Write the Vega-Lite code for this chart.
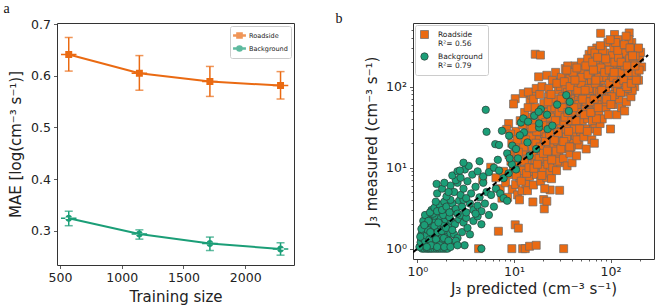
{
"$schema":"https://vega.github.io/schema/vega-lite/v6.json",
"padding":{"left":3,"top":1,"right":2,"bottom":2},
"spacing":40,
"resolve":{"scale":{"color":"independent","shape":"independent","stroke":"independent","size":"independent"},"legend":{"color":"independent","shape":"independent"}},
"config":{"font":"DejaVu Sans","view":{"stroke":"#333","strokeWidth":1},
"axis":{"domain":false,"grid":false,"tickColor":"#333","tickSize":3.5,"tickWidth":0.8,"labelColor":"#222","titleColor":"#222","labelFontSize":12.5,"titleFontSize":15,"titleFontWeight":"normal","labelPadding":3,"labelFlush":false,"labelOverlap":false}},
"datasets":{
"mae":[
{"n":571,"mae":0.641,"lo":0.609,"hi":0.674,"s":"Roadside"},
{"n":1143,"mae":0.605,"lo":0.572,"hi":0.639,"s":"Roadside"},
{"n":1714,"mae":0.589,"lo":0.560,"hi":0.618,"s":"Roadside"},
{"n":2286,"mae":0.581,"lo":0.555,"hi":0.608,"s":"Roadside"},
{"n":571,"mae":0.3245,"lo":0.310,"hi":0.338,"s":"Background"},
{"n":1143,"mae":0.294,"lo":0.284,"hi":0.302,"s":"Background"},
{"n":1714,"mae":0.2755,"lo":0.262,"hi":0.288,"s":"Background"},
{"n":2286,"mae":0.265,"lo":0.253,"hi":0.277,"s":"Background"}
],
"pts":[
{"x":4.3,"y":1,"s":"R"},{"x":9.5,"y":1,"s":"R"},{"x":12.3,"y":1,"s":"R"},{"x":13.1,"y":1,"s":"R"},{"x":14.5,"y":1.07,"s":"R"},{"x":17,"y":1.1,"s":"R"},{"x":32.7,"y":1,"s":"R"},
{"x":6.9,"y":1.64,"s":"R"},{"x":10.3,"y":1.97,"s":"R"},{"x":11.1,"y":1.79,"s":"R"},
{"x":15.7,"y":3.77,"s":"R"},{"x":20.3,"y":4.04,"s":"R"},{"x":20.6,"y":3.1,"s":"R"},{"x":21.9,"y":3.85,"s":"R"},{"x":29.7,"y":5.25,"s":"R"},{"x":23.7,"y":5.3,"s":"R"},
{"x":4.74,"y":7.1,"s":"R"},{"x":5.74,"y":10.1,"s":"R"},{"x":6.5,"y":7.5,"s":"R"},{"x":7.2,"y":5.5,"s":"R"},{"x":7.8,"y":9,"s":"R"},{"x":7.5,"y":4.2,"s":"R"},
{"x":8.8,"y":35,"s":"R"},{"x":8.4,"y":29.7,"s":"R"},{"x":10.3,"y":71,"s":"R"},{"x":9.9,"y":61,"s":"R"},{"x":12.5,"y":82,"s":"R"},{"x":14.7,"y":67,"s":"R"},{"x":15.3,"y":78.5,"s":"R"},{"x":14.1,"y":86,"s":"R"},
{"x":18,"y":132,"s":"R"},{"x":21.9,"y":138,"s":"R"},{"x":16.6,"y":251,"s":"R"},{"x":18.8,"y":245,"s":"R"},{"x":34,"y":167,"s":"R"},{"x":27.9,"y":109,"s":"R"},{"x":30,"y":115,"s":"R"},{"x":22.8,"y":75,"s":"R"},{"x":21.9,"y":59,"s":"R"},
{"x":8.2,"y":6.5,"s":"R"},{"x":8.6,"y":4.3,"s":"R"},{"x":9.0,"y":8.2,"s":"R"},{"x":9.3,"y":12,"s":"R"},{"x":9.6,"y":5.4,"s":"R"},{"x":9.9,"y":9,"s":"R"},{"x":10.2,"y":15,"s":"R"},{"x":10.4,"y":6.2,"s":"R"},{"x":10.7,"y":11,"s":"R"},{"x":10.9,"y":4.6,"s":"R"},{"x":11.2,"y":19,"s":"R"},{"x":11.5,"y":7.5,"s":"R"},{"x":11.8,"y":13,"s":"R"},{"x":12.1,"y":5.2,"s":"R"},{"x":12.4,"y":25,"s":"R"},{"x":12.7,"y":9.5,"s":"R"},{"x":13.0,"y":16,"s":"R"},{"x":13.3,"y":6.3,"s":"R"},{"x":13.6,"y":32,"s":"R"},{"x":13.9,"y":11,"s":"R"},{"x":14.2,"y":21,"s":"R"},{"x":14.5,"y":7.8,"s":"R"},{"x":14.8,"y":14,"s":"R"},{"x":15.0,"y":42,"s":"R"},{"x":9.5,"y":20,"s":"R"},{"x":10.5,"y":28,"s":"R"},{"x":11.6,"y":38,"s":"R"},{"x":12.9,"y":48,"s":"R"},{"x":8.9,"y":14.5,"s":"R"},{"x":10.0,"y":10.5,"s":"R"},{"x":11.4,"y":4.0,"s":"R"},{"x":12.6,"y":18,"s":"R"},{"x":13.8,"y":5.2,"s":"R"},{"x":14.6,"y":27,"s":"R"},{"x":9.2,"y":26,"s":"R"},{"x":10.8,"y":22,"s":"R"},{"x":12.0,"y":9.2,"s":"R"},{"x":14.0,"y":55,"s":"R"},
{"x":15.3,"y":9,"s":"R"},{"x":15.6,"y":18,"s":"R"},{"x":15.9,"y":6.1,"s":"R"},{"x":16.2,"y":25,"s":"R"},{"x":16.5,"y":12,"s":"R"},{"x":16.8,"y":35,"s":"R"},{"x":17.1,"y":8.2,"s":"R"},{"x":17.4,"y":16,"s":"R"},{"x":17.7,"y":50,"s":"R"},{"x":18.0,"y":22,"s":"R"},{"x":18.3,"y":10.5,"s":"R"},{"x":18.6,"y":30,"s":"R"},{"x":18.9,"y":6.8,"s":"R"},{"x":19.2,"y":14,"s":"R"},{"x":19.5,"y":42,"s":"R"},{"x":19.8,"y":19,"s":"R"},{"x":20.1,"y":9.5,"s":"R"},{"x":20.4,"y":62,"s":"R"},{"x":20.7,"y":26,"s":"R"},{"x":21.0,"y":12.5,"s":"R"},{"x":21.3,"y":36,"s":"R"},{"x":21.6,"y":17,"s":"R"},{"x":21.9,"y":7.5,"s":"R"},{"x":22.0,"y":48,"s":"R"},{"x":16.0,"y":70,"s":"R"},{"x":17.0,"y":95,"s":"R"},{"x":18.5,"y":80,"s":"R"},{"x":19.5,"y":100,"s":"R"},{"x":20.8,"y":5.5,"s":"R"},{"x":16.4,"y":45,"s":"R"},{"x":19.0,"y":28,"s":"R"},{"x":21.5,"y":24,"s":"R"},{"x":15.8,"y":14,"s":"R"},{"x":18.2,"y":13,"s":"R"},
{"x":22.4,"y":11,"s":"R"},{"x":22.8,"y":20,"s":"R"},{"x":23.2,"y":32,"s":"R"},{"x":23.6,"y":8.6,"s":"R"},{"x":24.0,"y":15,"s":"R"},{"x":24.4,"y":52,"s":"R"},{"x":24.8,"y":25,"s":"R"},{"x":25.2,"y":10,"s":"R"},{"x":25.6,"y":40,"s":"R"},{"x":26.0,"y":18,"s":"R"},{"x":26.4,"y":70,"s":"R"},{"x":26.8,"y":13,"s":"R"},{"x":27.2,"y":30,"s":"R"},{"x":27.6,"y":9.2,"s":"R"},{"x":28.0,"y":45,"s":"R"},{"x":28.4,"y":21,"s":"R"},{"x":28.8,"y":90,"s":"R"},{"x":29.2,"y":15,"s":"R"},{"x":29.6,"y":60,"s":"R"},{"x":30.0,"y":28,"s":"R"},{"x":30.5,"y":11.5,"s":"R"},{"x":31.0,"y":38,"s":"R"},{"x":31.5,"y":19,"s":"R"},{"x":32.0,"y":75,"s":"R"},{"x":23.0,"y":95,"s":"R"},{"x":25.0,"y":120,"s":"R"},{"x":27.0,"y":150,"s":"R"},{"x":24.5,"y":7.3,"s":"R"},{"x":26.5,"y":55,"s":"R"},{"x":29.0,"y":35,"s":"R"},{"x":31.0,"y":130,"s":"R"},{"x":22.6,"y":65,"s":"R"},{"x":28.2,"y":12,"s":"R"},{"x":30.2,"y":100,"s":"R"},{"x":25.8,"y":28,"s":"R"},{"x":23.8,"y":42,"s":"R"},
{"x":32.5,"y":13,"s":"R"},{"x":33,"y":26,"s":"R"},{"x":33.5,"y":50,"s":"R"},{"x":34,"y":17,"s":"R"},{"x":34.5,"y":95,"s":"R"},{"x":35,"y":33,"s":"R"},{"x":35.5,"y":10.5,"s":"R"},{"x":36,"y":62,"s":"R"},{"x":36.5,"y":22,"s":"R"},{"x":37,"y":140,"s":"R"},{"x":37.5,"y":40,"s":"R"},{"x":38,"y":15,"s":"R"},{"x":38.5,"y":80,"s":"R"},{"x":39,"y":28,"s":"R"},{"x":39.5,"y":55,"s":"R"},{"x":40,"y":11.5,"s":"R"},{"x":40.5,"y":110,"s":"R"},{"x":41,"y":35,"s":"R"},{"x":41.5,"y":20,"s":"R"},{"x":42,"y":70,"s":"R"},{"x":42.5,"y":180,"s":"R"},{"x":43,"y":45,"s":"R"},{"x":43.5,"y":25,"s":"R"},{"x":44,"y":90,"s":"R"},{"x":44.5,"y":14,"s":"R"},{"x":45,"y":130,"s":"R"},{"x":45.5,"y":55,"s":"R"},{"x":46,"y":32,"s":"R"},{"x":46.5,"y":75,"s":"R"},{"x":47,"y":19,"s":"R"},{"x":47.5,"y":160,"s":"R"},{"x":48,"y":48,"s":"R"},{"x":48.5,"y":100,"s":"R"},{"x":49,"y":28,"s":"R"},{"x":49.5,"y":65,"s":"R"},{"x":50,"y":200,"s":"R"},{"x":34,"y":70,"s":"R"},{"x":36,"y":180,"s":"R"},{"x":38,"y":125,"s":"R"},{"x":40,"y":45,"s":"R"},{"x":42,"y":30,"s":"R"},{"x":44,"y":60,"s":"R"},{"x":46,"y":40,"s":"R"},{"x":48,"y":120,"s":"R"},{"x":35,"y":24,"s":"R"},{"x":39,"y":18,"s":"R"},{"x":43,"y":100,"s":"R"},{"x":47,"y":85,"s":"R"},{"x":33,"y":37,"s":"R"},{"x":41,"y":150,"s":"R"},{"x":45,"y":22,"s":"R"},
{"x":51,"y":38,"s":"R"},{"x":52,"y":85,"s":"R"},{"x":53,"y":24,"s":"R"},{"x":54,"y":140,"s":"R"},{"x":55,"y":55,"s":"R"},{"x":56,"y":17,"s":"R"},{"x":57,"y":110,"s":"R"},{"x":58,"y":40,"s":"R"},{"x":59,"y":75,"s":"R"},{"x":60,"y":250,"s":"R"},{"x":61,"y":30,"s":"R"},{"x":62,"y":170,"s":"R"},{"x":63,"y":60,"s":"R"},{"x":64,"y":22,"s":"R"},{"x":65,"y":95,"s":"R"},{"x":66,"y":45,"s":"R"},{"x":67,"y":210,"s":"R"},{"x":68,"y":130,"s":"R"},{"x":69,"y":35,"s":"R"},{"x":70,"y":80,"s":"R"},{"x":71,"y":55,"s":"R"},{"x":72,"y":300,"s":"R"},{"x":73,"y":28,"s":"R"},{"x":74,"y":150,"s":"R"},{"x":75,"y":100,"s":"R"},{"x":76,"y":45,"s":"R"},{"x":77,"y":190,"s":"R"},{"x":78,"y":65,"s":"R"},{"x":79,"y":455,"s":"R"},{"x":80,"y":120,"s":"R"},{"x":52,"y":160,"s":"R"},{"x":55,"y":30,"s":"R"},{"x":58,"y":220,"s":"R"},{"x":62,"y":90,"s":"R"},{"x":66,"y":115,"s":"R"},{"x":70,"y":160,"s":"R"},{"x":74,"y":75,"s":"R"},{"x":78,"y":35,"s":"R"},{"x":56,"y":65,"s":"R"},{"x":60,"y":50,"s":"R"},{"x":64,"y":280,"s":"R"},{"x":68,"y":20,"s":"R"},{"x":72,"y":110,"s":"R"},{"x":76,"y":240,"s":"R"},{"x":53,"y":110,"s":"R"},{"x":57,"y":48,"s":"R"},{"x":61,"y":140,"s":"R"},{"x":65,"y":38,"s":"R"},{"x":69,"y":260,"s":"R"},{"x":73,"y":90,"s":"R"},
{"x":82,"y":40,"s":"R"},{"x":84,"y":180,"s":"R"},{"x":86,"y":90,"s":"R"},{"x":88,"y":260,"s":"R"},{"x":90,"y":55,"s":"R"},{"x":92,"y":130,"s":"R"},{"x":94,"y":350,"s":"R"},{"x":96,"y":75,"s":"R"},{"x":98,"y":200,"s":"R"},{"x":100,"y":30,"s":"R"},{"x":102,"y":110,"s":"R"},{"x":104,"y":160,"s":"R"},{"x":106,"y":60,"s":"R"},{"x":108,"y":300,"s":"R"},{"x":110,"y":440,"s":"R"},{"x":112,"y":95,"s":"R"},{"x":114,"y":220,"s":"R"},{"x":116,"y":45,"s":"R"},{"x":118,"y":140,"s":"R"},{"x":120,"y":380,"s":"R"},{"x":122,"y":70,"s":"R"},{"x":124,"y":250,"s":"R"},{"x":126,"y":180,"s":"R"},{"x":128,"y":110,"s":"R"},{"x":130,"y":55,"s":"R"},{"x":85,"y":130,"s":"R"},{"x":90,"y":95,"s":"R"},{"x":95,"y":45,"s":"R"},{"x":100,"y":150,"s":"R"},{"x":105,"y":240,"s":"R"},{"x":110,"y":80,"s":"R"},{"x":115,"y":180,"s":"R"},{"x":120,"y":120,"s":"R"},{"x":125,"y":320,"s":"R"},{"x":88,"y":65,"s":"R"},{"x":98,"y":110,"s":"R"},{"x":108,"y":190,"s":"R"},{"x":118,"y":90,"s":"R"},{"x":128,"y":160,"s":"R"},{"x":83,"y":280,"s":"R"},{"x":93,"y":200,"s":"R"},{"x":103,"y":75,"s":"R"},{"x":113,"y":350,"s":"R"},{"x":123,"y":150,"s":"R"},
{"x":133,"y":200,"s":"R"},{"x":136,"y":85,"s":"R"},{"x":140,"y":140,"s":"R"},{"x":143,"y":300,"s":"R"},{"x":146,"y":65,"s":"R"},{"x":150,"y":240,"s":"R"},{"x":153,"y":110,"s":"R"},{"x":156,"y":460,"s":"R"},{"x":160,"y":170,"s":"R"},{"x":163,"y":75,"s":"R"},{"x":166,"y":350,"s":"R"},{"x":170,"y":130,"s":"R"},{"x":174,"y":220,"s":"R"},{"x":178,"y":100,"s":"R"},{"x":182,"y":280,"s":"R"},{"x":186,"y":150,"s":"R"},{"x":190,"y":190,"s":"R"},{"x":195,"y":120,"s":"R"},{"x":200,"y":230,"s":"R"},{"x":205,"y":265,"s":"R"},{"x":210,"y":175,"s":"R"},{"x":140,"y":50,"s":"R"},{"x":155,"y":380,"s":"R"},{"x":168,"y":90,"s":"R"},{"x":180,"y":240,"s":"R"},{"x":145,"y":420,"s":"R"},{"x":135,"y":260,"s":"R"},{"x":160,"y":125,"s":"R"},{"x":175,"y":150,"s":"R"},{"x":195,"y":300,"s":"R"},{"x":150,"y":95,"s":"R"},
{"x":10.6,"y":8,"s":"R"},{"x":11.9,"y":6.8,"s":"R"},{"x":12.8,"y":12,"s":"R"},{"x":13.5,"y":8.5,"s":"R"},{"x":14.3,"y":10,"s":"R"},{"x":15.1,"y":24,"s":"R"},{"x":16.1,"y":9.8,"s":"R"},{"x":16.9,"y":20,"s":"R"},{"x":17.5,"y":11,"s":"R"},{"x":18.7,"y":18,"s":"R"},{"x":19.4,"y":8,"s":"R"},{"x":20.2,"y":15,"s":"R"},{"x":21.2,"y":21,"s":"R"},{"x":17.2,"y":28,"s":"R"},{"x":15.4,"y":31,"s":"R"},{"x":13.2,"y":22,"s":"R"},{"x":11.1,"y":15.5,"s":"R"},{"x":12.2,"y":34,"s":"R"},{"x":19.9,"y":33,"s":"R"},{"x":16.6,"y":55,"s":"R"},
{"x":22.2,"y":16,"s":"R"},{"x":23.4,"y":26,"s":"R"},{"x":24.6,"y":12.5,"s":"R"},{"x":25.4,"y":33,"s":"R"},{"x":26.2,"y":22,"s":"R"},{"x":27.4,"y":16,"s":"R"},{"x":28.6,"y":27,"s":"R"},{"x":29.4,"y":48,"s":"R"},{"x":30.6,"y":17,"s":"R"},{"x":31.6,"y":55,"s":"R"},{"x":32.8,"y":21,"s":"R"},{"x":33.8,"y":42,"s":"R"},{"x":34.8,"y":30,"s":"R"},{"x":35.8,"y":85,"s":"R"},{"x":36.8,"y":28,"s":"R"},{"x":37.8,"y":18,"s":"R"},{"x":38.8,"y":65,"s":"R"},{"x":39.8,"y":38,"s":"R"},{"x":24.2,"y":80,"s":"R"},{"x":27.8,"y":110,"s":"R"},{"x":33.2,"y":115,"s":"R"},{"x":36.2,"y":48,"s":"R"},{"x":38.2,"y":100,"s":"R"},{"x":26.9,"y":38,"s":"R"},{"x":30.8,"y":70,"s":"R"},{"x":35.2,"y":160,"s":"R"},
{"x":41.8,"y":55,"s":"R"},{"x":43.8,"y":38,"s":"R"},{"x":45.8,"y":90,"s":"R"},{"x":47.8,"y":30,"s":"R"},{"x":49.8,"y":110,"s":"R"},{"x":51.5,"y":70,"s":"R"},{"x":53.5,"y":45,"s":"R"},{"x":55.5,"y":180,"s":"R"},{"x":57.5,"y":28,"s":"R"},{"x":59.5,"y":95,"s":"R"},{"x":61.5,"y":65,"s":"R"},{"x":63.5,"y":120,"s":"R"},{"x":65.5,"y":200,"s":"R"},{"x":67.5,"y":70,"s":"R"},{"x":69.5,"y":110,"s":"R"},{"x":71.5,"y":40,"s":"R"},{"x":73.5,"y":230,"s":"R"},{"x":75.5,"y":130,"s":"R"},{"x":77.5,"y":85,"s":"R"},{"x":79.5,"y":170,"s":"R"},{"x":44.8,"y":170,"s":"R"},{"x":50.5,"y":130,"s":"R"},{"x":54.5,"y":90,"s":"R"},{"x":58.5,"y":140,"s":"R"},{"x":62.5,"y":48,"s":"R"},{"x":66.5,"y":160,"s":"R"},{"x":70.5,"y":120,"s":"R"},{"x":74.5,"y":55,"s":"R"},{"x":78.5,"y":320,"s":"R"},{"x":42.8,"y":120,"s":"R"},
{"x":81,"y":90,"s":"R"},{"x":87,"y":150,"s":"R"},{"x":91,"y":70,"s":"R"},{"x":97,"y":160,"s":"R"},{"x":101,"y":60,"s":"R"},{"x":107,"y":130,"s":"R"},{"x":111,"y":200,"s":"R"},{"x":117,"y":110,"s":"R"},{"x":121,"y":230,"s":"R"},{"x":127,"y":85,"s":"R"},{"x":131,"y":150,"s":"R"},{"x":137,"y":120,"s":"R"},{"x":141,"y":180,"s":"R"},{"x":147,"y":100,"s":"R"},{"x":152,"y":150,"s":"R"},{"x":158,"y":220,"s":"R"},{"x":164,"y":110,"s":"R"},{"x":171,"y":190,"s":"R"},{"x":185,"y":120,"s":"R"},{"x":198,"y":160,"s":"R"},{"x":89,"y":220,"s":"R"},{"x":99,"y":380,"s":"R"},{"x":109,"y":150,"s":"R"},{"x":119,"y":280,"s":"R"},{"x":129,"y":200,"s":"R"},{"x":139,"y":330,"s":"R"},{"x":149,"y":180,"s":"R"},{"x":159,"y":300,"s":"R"},{"x":169,"y":240,"s":"R"},{"x":179,"y":180,"s":"R"},
{"x":1.12,"y":1,"s":"B"},{"x":1.18,"y":1,"s":"B"},{"x":1.25,"y":1,"s":"B"},{"x":1.3,"y":1,"s":"B"},{"x":1.36,"y":1,"s":"B"},{"x":1.42,"y":1,"s":"B"},{"x":1.5,"y":1,"s":"B"},{"x":1.58,"y":1,"s":"B"},{"x":1.66,"y":1,"s":"B"},{"x":1.75,"y":1,"s":"B"},{"x":1.85,"y":1,"s":"B"},{"x":1.95,"y":1,"s":"B"},{"x":2.05,"y":1,"s":"B"},{"x":3.08,"y":1.1,"s":"B"},{"x":4.6,"y":1,"s":"B"},
{"x":1.08,"y":1.1,"s":"B"},{"x":1.15,"y":1.15,"s":"B"},{"x":1.22,"y":1.2,"s":"B"},{"x":1.3,"y":1.12,"s":"B"},{"x":1.4,"y":1.25,"s":"B"},{"x":1.48,"y":1.1,"s":"B"},{"x":1.55,"y":1.18,"s":"B"},{"x":1.65,"y":1.3,"s":"B"},{"x":1.75,"y":1.15,"s":"B"},{"x":1.85,"y":1.25,"s":"B"},{"x":2.0,"y":1.1,"s":"B"},{"x":2.2,"y":1.2,"s":"B"},{"x":1.1,"y":1.3,"s":"B"},{"x":1.35,"y":1.35,"s":"B"},{"x":1.6,"y":1.4,"s":"B"},
{"x":1.1,"y":1.5,"s":"B"},{"x":1.18,"y":1.4,"s":"B"},{"x":1.25,"y":1.6,"s":"B"},{"x":1.32,"y":1.45,"s":"B"},{"x":1.4,"y":1.55,"s":"B"},{"x":1.5,"y":1.4,"s":"B"},{"x":1.58,"y":1.65,"s":"B"},{"x":1.68,"y":1.5,"s":"B"},{"x":1.8,"y":1.45,"s":"B"},{"x":1.9,"y":1.6,"s":"B"},{"x":2.05,"y":1.4,"s":"B"},{"x":2.2,"y":1.55,"s":"B"},{"x":2.4,"y":1.5,"s":"B"},{"x":1.2,"y":1.7,"s":"B"},{"x":1.45,"y":1.75,"s":"B"},{"x":1.7,"y":1.7,"s":"B"},{"x":2.6,"y":1.35,"s":"B"},{"x":2.9,"y":1.6,"s":"B"},
{"x":1.15,"y":1.9,"s":"B"},{"x":1.22,"y":2.1,"s":"B"},{"x":1.3,"y":1.85,"s":"B"},{"x":1.38,"y":2.3,"s":"B"},{"x":1.45,"y":2.0,"s":"B"},{"x":1.55,"y":2.2,"s":"B"},{"x":1.62,"y":1.9,"s":"B"},{"x":1.72,"y":2.4,"s":"B"},{"x":1.82,"y":2.05,"s":"B"},{"x":1.95,"y":2.3,"s":"B"},{"x":2.1,"y":1.9,"s":"B"},{"x":2.25,"y":2.2,"s":"B"},{"x":2.45,"y":2.0,"s":"B"},{"x":2.7,"y":2.3,"s":"B"},{"x":3.0,"y":2.1,"s":"B"},{"x":1.3,"y":2.5,"s":"B"},{"x":1.5,"y":2.55,"s":"B"},{"x":2.0,"y":2.6,"s":"B"},{"x":1.25,"y":2.35,"s":"B"},{"x":1.4,"y":1.8,"s":"B"},{"x":3.3,"y":1.8,"s":"B"},{"x":3.8,"y":2.2,"s":"B"},{"x":4.2,"y":2.5,"s":"B"},{"x":4.6,"y":2.0,"s":"B"},{"x":3.5,"y":1.5,"s":"B"},
{"x":1.05,"y":1.05,"s":"B"},{"x":1.08,"y":1.2,"s":"B"},{"x":1.12,"y":1.35,"s":"B"},{"x":1.16,"y":1.55,"s":"B"},{"x":1.2,"y":1.25,"s":"B"},{"x":1.24,"y":1.45,"s":"B"},{"x":1.28,"y":1.7,"s":"B"},{"x":1.33,"y":1.3,"s":"B"},{"x":1.38,"y":1.1,"s":"B"},{"x":1.44,"y":1.5,"s":"B"},{"x":1.5,"y":1.9,"s":"B"},{"x":1.56,"y":1.3,"s":"B"},{"x":1.62,"y":1.6,"s":"B"},{"x":1.7,"y":1.1,"s":"B"},{"x":1.78,"y":1.65,"s":"B"},{"x":1.88,"y":1.35,"s":"B"},{"x":1.98,"y":1.8,"s":"B"},{"x":2.1,"y":1.25,"s":"B"},{"x":2.3,"y":1.7,"s":"B"},{"x":2.5,"y":1.25,"s":"B"},{"x":1.1,"y":1.75,"s":"B"},{"x":1.15,"y":2.2,"s":"B"},{"x":1.2,"y":2.6,"s":"B"},{"x":1.3,"y":2.2,"s":"B"},{"x":1.45,"y":2.7,"s":"B"},{"x":1.65,"y":2.1,"s":"B"},{"x":1.85,"y":2.6,"s":"B"},{"x":2.15,"y":2.45,"s":"B"},{"x":2.35,"y":2.9,"s":"B"},{"x":2.8,"y":2.6,"s":"B"},{"x":3.2,"y":2.4,"s":"B"},{"x":1.4,"y":3.0,"s":"B"},{"x":1.25,"y":1.05,"s":"B"},{"x":1.6,"y":1.05,"s":"B"},{"x":1.9,"y":1.05,"s":"B"},{"x":2.2,"y":1.05,"s":"B"},{"x":2.6,"y":1.1,"s":"B"},{"x":1.07,"y":1.4,"s":"B"},{"x":1.18,"y":1.95,"s":"B"},{"x":1.36,"y":1.6,"s":"B"},
{"x":1.35,"y":2.8,"s":"B"},{"x":1.5,"y":3.2,"s":"B"},{"x":1.6,"y":2.9,"s":"B"},{"x":1.7,"y":3.5,"s":"B"},{"x":1.8,"y":3.0,"s":"B"},{"x":1.9,"y":3.8,"s":"B"},{"x":2.0,"y":3.3,"s":"B"},{"x":2.15,"y":2.8,"s":"B"},{"x":2.3,"y":3.6,"s":"B"},{"x":2.5,"y":3.1,"s":"B"},{"x":2.7,"y":3.9,"s":"B"},{"x":2.9,"y":3.3,"s":"B"},{"x":3.2,"y":2.8,"s":"B"},{"x":3.5,"y":3.6,"s":"B"},{"x":3.8,"y":3.0,"s":"B"},{"x":4.2,"y":3.4,"s":"B"},{"x":4.6,"y":2.9,"s":"B"},{"x":5.0,"y":3.6,"s":"B"},{"x":1.55,"y":3.8,"s":"B"},{"x":2.2,"y":4.0,"s":"B"},{"x":2.6,"y":2.7,"s":"B"},{"x":3.0,"y":4.0,"s":"B"},{"x":5.5,"y":2.6,"s":"B"},{"x":6.2,"y":3.3,"s":"B"},{"x":4.0,"y":2.7,"s":"B"},
{"x":1.6,"y":4.8,"s":"B"},{"x":1.8,"y":5.5,"s":"B"},{"x":2.0,"y":4.4,"s":"B"},{"x":2.2,"y":6.0,"s":"B"},{"x":2.4,"y":5.0,"s":"B"},{"x":2.6,"y":6.5,"s":"B"},{"x":2.8,"y":4.6,"s":"B"},{"x":3.0,"y":5.5,"s":"B"},{"x":3.3,"y":6.8,"s":"B"},{"x":3.6,"y":4.8,"s":"B"},{"x":4.0,"y":5.8,"s":"B"},{"x":4.4,"y":4.3,"s":"B"},{"x":4.8,"y":6.5,"s":"B"},{"x":5.2,"y":5.0,"s":"B"},{"x":5.8,"y":4.6,"s":"B"},{"x":6.5,"y":5.5,"s":"B"},{"x":7.2,"y":4.8,"s":"B"},{"x":7.8,"y":4.2,"s":"B"},{"x":8.5,"y":3.9,"s":"B"},{"x":1.9,"y":6.5,"s":"B"},{"x":2.5,"y":7.0,"s":"B"},{"x":3.2,"y":4.2,"s":"B"},{"x":2.1,"y":5.0,"s":"B"},{"x":1.58,"y":6.3,"s":"B"},
{"x":2.3,"y":8.0,"s":"B"},{"x":2.6,"y":9.0,"s":"B"},{"x":2.8,"y":7.5,"s":"B"},{"x":3.1,"y":9.5,"s":"B"},{"x":3.4,"y":10.5,"s":"B"},{"x":3.7,"y":8.2,"s":"B"},{"x":4.2,"y":9.0,"s":"B"},{"x":4.8,"y":7.8,"s":"B"},{"x":5.5,"y":8.8,"s":"B"},{"x":6.2,"y":10.0,"s":"B"},{"x":7.0,"y":9.2,"s":"B"},{"x":7.8,"y":7.4,"s":"B"},{"x":8.8,"y":8.5,"s":"B"},{"x":9.5,"y":11,"s":"B"},{"x":3.0,"y":11.5,"s":"B"},{"x":4.4,"y":12,"s":"B"},{"x":6.8,"y":12.5,"s":"B"},{"x":2.75,"y":9.2,"s":"B"},{"x":10.5,"y":9.5,"s":"B"},
{"x":6.4,"y":19.5,"s":"B"},{"x":7.0,"y":19,"s":"B"},{"x":8.5,"y":15,"s":"B"},{"x":8.9,"y":24.8,"s":"B"},{"x":9.6,"y":18.7,"s":"B"},{"x":11.8,"y":36,"s":"B"},{"x":12.7,"y":27.2,"s":"B"},{"x":13.8,"y":20.5,"s":"B"},{"x":16.2,"y":43.7,"s":"B"},{"x":19,"y":52.7,"s":"B"},{"x":18.2,"y":31.3,"s":"B"},{"x":22.3,"y":29.9,"s":"B"},{"x":10.5,"y":17,"s":"B"},{"x":11.5,"y":25,"s":"B"},{"x":14.5,"y":14,"s":"B"},{"x":11,"y":13,"s":"B"},{"x":9,"y":13,"s":"B"},{"x":17,"y":17,"s":"B"},{"x":25,"y":33,"s":"B"},
{"x":5.1,"y":51.7,"s":"B"},{"x":5.2,"y":27.7,"s":"B"},{"x":7.5,"y":28.5,"s":"B"},{"x":12.5,"y":40.5,"s":"B"},{"x":18,"y":48.9,"s":"B"},{"x":18.2,"y":35.2,"s":"B"},{"x":34.8,"y":78.5,"s":"B"},{"x":37.8,"y":65,"s":"B"},{"x":37,"y":50,"s":"B"},{"x":14,"y":37,"s":"B"},{"x":28,"y":60,"s":"B"},{"x":22,"y":45,"s":"B"}
]
},
"hconcat":[
{
"width":237,"height":242,
"title":{"text":"a","font":"Liberation Serif","fontSize":14,"fontWeight":"normal","anchor":"start","frame":"bounds","offset":2,"dx":-5,"color":"#111"},
"data":{"name":"mae"},
"encoding":{
"x":{"field":"n","type":"quantitative","scale":{"domain":[476,2395],"nice":false,"zero":false},"axis":{"values":[500,1000,1500,2000],"format":"d","title":"Training size","titlePadding":5}},
"color":{"field":"s","type":"nominal","scale":{"domain":["Roadside","Background"],"range":["#ea6a12","#1b9e77"]},
"legend":{"title":null,"orient":"top-right","offset":3,"fillColor":"white","strokeColor":"#ccc","padding":3,"cornerRadius":2,"labelFontSize":6.5,"labelColor":"#222","symbolSize":130,"rowPadding":0,"labelOffset":3}}
},
"layer":[
{"mark":{"type":"errorbar","ticks":{"size":8},"thickness":1.5},
"encoding":{"y":{"field":"lo","type":"quantitative","scale":{"domain":[0.234,0.702],"nice":false,"zero":false},"axis":{"values":[0.3,0.4,0.5,0.6,0.7],"format":".1f","title":"MAE [log(cm⁻³ s⁻¹)]","titlePadding":7}},"y2":{"field":"hi"}}},
{"mark":{"type":"line","strokeWidth":2},
"encoding":{"y":{"field":"mae","type":"quantitative","title":"MAE [log(cm⁻³ s⁻¹)]"}}},
{"mark":{"type":"point","filled":true,"opacity":1,"size":240},
"encoding":{"y":{"field":"mae","type":"quantitative","title":"MAE [log(cm⁻³ s⁻¹)]"},
"shape":{"field":"s","type":"nominal","scale":{"domain":["Roadside","Background"],"range":["M-1,-0.1H1V0.1H-1Z M-0.45,-0.45H0.45V0.45H-0.45Z","M-1,-0.1H1V0.1H-1Z M-0.45,0A0.45,0.45 0 1 0 0.45,0A0.45,0.45 0 1 0 -0.45,0Z"]},
"legend":{"title":null,"orient":"top-right","offset":3,"fillColor":"white","strokeColor":"#ccc","padding":3,"cornerRadius":2,"labelFontSize":6.5,"labelColor":"#222","symbolSize":130,"rowPadding":0,"labelOffset":3}}}}
]
},
{
"width":241,"height":236,
"title":{"text":"b","font":"Liberation Serif","fontSize":14,"fontWeight":"normal","anchor":"start","frame":"bounds","offset":-3,"dx":-29,"color":"#111"},
"layer":[
{"data":{"name":"pts"},
"mark":{"type":"point","filled":true,"opacity":1,"strokeWidth":0.7,"clip":true},
"encoding":{
"x":{"field":"x","type":"quantitative","scale":{"type":"log","domain":[0.9,282],"nice":false},
"axis":{"title":"J₃ predicted (cm⁻³ s⁻¹)","titlePadding":3,"values":[1,2,3,4,5,6,7,8,9,10,20,30,40,50,60,70,80,90,100,200],
"labelExpr":"datum.value==1?'10⁰':datum.value==10?'10¹':datum.value==100?'10²':''",
"tickSize":{"condition":{"test":"datum.value==1||datum.value==10||datum.value==100","value":3.5},"value":2}}},
"y":{"field":"y","type":"quantitative","scale":{"type":"log","domain":[0.745,610],"nice":false},
"axis":{"title":"J₃ measured (cm⁻³ s⁻¹)","titlePadding":6,"values":[1,2,3,4,5,6,7,8,9,10,20,30,40,50,60,70,80,90,100,200,300,400,500],
"labelExpr":"datum.value==1?'10⁰':datum.value==10?'10¹':datum.value==100?'10²':''",
"tickSize":{"condition":{"test":"datum.value==1||datum.value==10||datum.value==100","value":3.5},"value":2}}},
"color":{"field":"s","type":"nominal","scale":{"domain":["R","B"],"range":["#ea6a12","#1b9e77"]},
"legend":{"title":null,"orient":"top-left","offset":2,"fillColor":"white","strokeColor":"#ccc","padding":5,"cornerRadius":2,"labelFontSize":7.5,"labelColor":"#222","symbolStrokeColor":"#555","symbolStrokeWidth":0.7,"rowPadding":3,"labelOffset":9,
"labelExpr":"datum.label=='R'?['Roadside',' R²= 0.56']:['Background',' R²= 0.79']"}},
"shape":{"field":"s","type":"nominal","scale":{"domain":["R","B"],"range":["square","circle"]},
"legend":{"title":null,"orient":"top-left","offset":2,"fillColor":"white","strokeColor":"#ccc","padding":5,"cornerRadius":2,"labelFontSize":7.5,"labelColor":"#222","symbolStrokeColor":"#555","symbolStrokeWidth":0.7,"rowPadding":3,"labelOffset":9,
"labelExpr":"datum.label=='R'?['Roadside',' R²= 0.56']:['Background',' R²= 0.79']"}},
"stroke":{"field":"s","type":"nominal","scale":{"domain":["R","B"],"range":["#6a6a6a","#2c3b35"]},"legend":null},
"size":{"field":"s","type":"nominal","scale":{"domain":["R","B"],"range":[64,55]},"legend":null}
}},
{"data":{"values":[{"x":0.9,"y":0.9},{"x":245,"y":245}]},
"mark":{"type":"line","color":"black","strokeWidth":2,"strokeDash":[5,3],"clip":true},
"encoding":{"x":{"field":"x","type":"quantitative"},"y":{"field":"y","type":"quantitative"}}}
]
}
]
}
